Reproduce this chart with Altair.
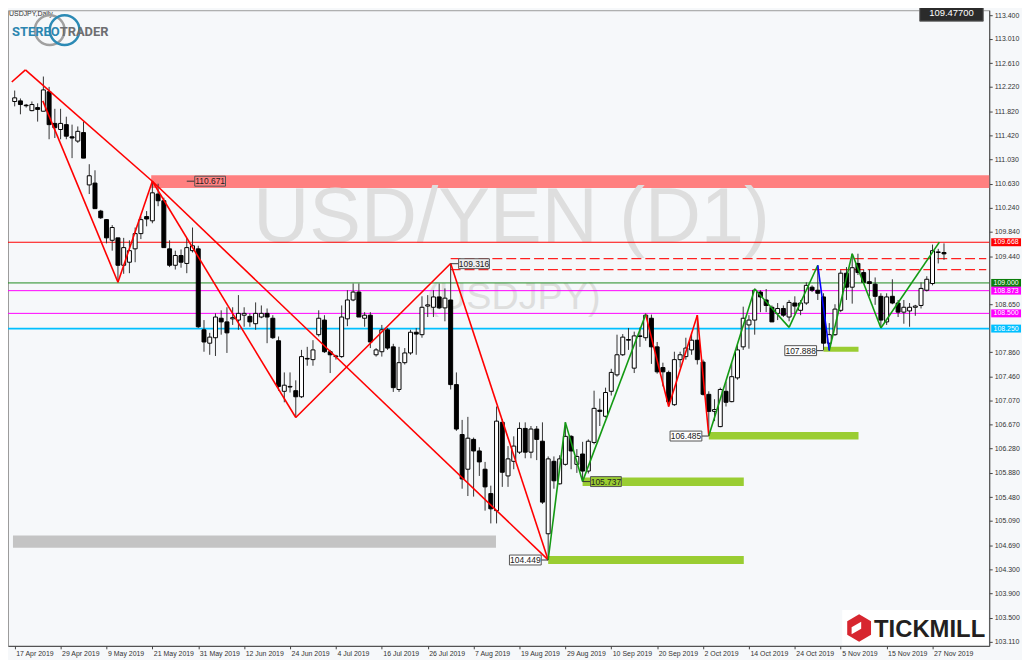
import altair as alt
import pandas as pd

# ---------------- data ----------------
date_labels = ["17 Apr 2019", "29 Apr 2019", "9 May 2019", "21 May 2019", "31 May 2019",
               "12 Jun 2019", "24 Jun 2019", "4 Jul 2019", "16 Jul 2019", "26 Jul 2019",
               "7 Aug 2019", "19 Aug 2019", "29 Aug 2019", "10 Sep 2019", "20 Sep 2019",
               "2 Oct 2019", "14 Oct 2019", "24 Oct 2019", "5 Nov 2019", "15 Nov 2019",
               "27 Nov 2019"]
date_label_bars = [0, 8, 16, 24, 32, 40, 48, 56, 64, 72, 80, 88, 96, 104, 112, 120,
                   128, 136, 144, 152, 160]

# visible price-axis labels (109.050 and 108.250 sit under the coloured tags)
y_ticks = [113.400, 113.010, 112.610, 112.220, 111.820, 111.420, 111.030, 110.630,
           110.240, 109.840, 109.440, 108.650, 107.860, 107.460,
           107.070, 106.670, 106.280, 105.880, 105.480, 105.090, 104.690, 104.300,
           103.900, 103.500, 103.110]

opens = [
    111.98, 111.99, 111.92, 111.83, 111.88, 111.82, 112.14, 111.62, 111.52, 111.60,
    111.40, 111.33, 111.47, 110.61, 110.64, 110.18, 110.04, 109.70, 109.74, 109.29,
    109.34, 109.56, 109.81, 110.09, 110.02, 110.46, 110.35, 109.56, 109.29, 109.45,
    109.32, 109.53, 109.56, 108.23, 108.01, 108.10, 108.42, 108.36, 108.41, 108.39,
    108.47, 108.45, 108.33, 108.44, 108.50, 108.42, 108.05, 107.22, 107.29, 107.23,
    107.13, 107.76, 107.74, 108.15, 108.39, 107.87, 107.80, 107.79, 108.41, 108.72,
    108.85, 108.42, 108.47, 107.82, 107.87, 108.23, 107.95, 107.25, 107.69, 107.85,
    108.19, 108.15, 108.62, 108.60, 108.77, 108.59, 108.72, 107.33, 106.51, 105.94,
    106.43, 106.24, 105.94, 105.54, 105.26, 106.71, 105.83, 106.07, 106.22, 106.61,
    106.22, 106.60, 106.40, 104.88, 106.07, 105.70, 106.02, 106.48, 106.02, 106.19,
    105.91, 106.38, 106.91, 106.81, 107.22, 107.49, 107.82, 108.07, 107.60, 108.13,
    108.10, 108.42, 107.95, 107.61, 107.53, 107.00, 107.74, 107.79, 107.90, 108.06,
    107.70, 107.17, 106.89, 106.64, 107.22, 107.05, 107.44, 107.95, 108.31, 108.39,
    108.85, 108.72, 108.60, 108.50, 108.58, 108.44, 108.67, 108.55, 108.67, 108.93,
    108.88, 108.77, 108.01, 108.15, 108.55, 109.16, 108.93, 109.32, 109.17, 109.02,
    108.98, 108.78, 108.36, 108.78, 108.67, 108.52, 108.54, 108.60, 108.63, 108.88,
    108.99, 109.50, 109.50]
highs = [
    112.16, 112.03, 111.94, 111.98, 111.95, 112.39, 112.22, 111.86, 111.86, 111.73,
    111.60, 111.57, 111.65, 110.95, 110.85, 110.20, 110.05, 109.95, 109.74, 109.74,
    109.70, 109.91, 110.09, 110.18, 110.67, 110.63, 110.40, 109.70, 109.53, 109.55,
    109.74, 109.91, 109.61, 108.39, 108.18, 108.50, 108.55, 108.60, 108.60, 108.80,
    108.60, 108.50, 108.68, 108.63, 108.58, 108.47, 108.12, 107.53, 107.53, 107.40,
    107.90, 107.95, 108.06, 108.55, 108.47, 107.90, 107.82, 108.63, 108.88, 108.99,
    108.99, 108.52, 108.52, 107.93, 108.31, 108.26, 108.00, 107.95, 107.93, 108.23,
    108.26, 108.78, 108.80, 108.88, 108.99, 108.91, 109.32, 107.53, 106.75, 106.80,
    106.46, 106.30, 106.06, 105.67, 106.97, 106.76, 106.32, 106.48, 106.71, 106.71,
    106.65, 106.65, 106.71, 106.15, 106.15, 106.17, 106.71, 106.50, 106.27, 106.39,
    106.43, 107.23, 107.10, 107.28, 107.59, 108.15, 108.16, 108.26, 108.20, 108.27,
    108.50, 108.48, 108.03, 107.69, 107.56, 107.87, 107.87, 108.10, 108.18, 108.47,
    107.74, 107.22, 107.09, 107.28, 107.38, 107.69, 108.00, 108.61, 108.47, 108.91,
    108.88, 108.90, 108.63, 108.67, 108.63, 108.72, 108.78, 108.72, 109.01, 108.96,
    109.29, 108.83, 108.34, 108.65, 109.21, 109.26, 109.48, 109.48, 109.22, 109.22,
    109.09, 108.83, 108.83, 109.06, 108.72, 108.72, 108.67, 108.64, 109.01, 109.11,
    109.63, 109.56, 109.65]
lows = [
    111.90, 111.77, 111.88, 111.82, 111.65, 111.82, 111.36, 111.38, 111.36, 111.36,
    111.05, 111.30, 111.05, 110.46, 110.22, 110.05, 109.65, 109.53, 109.01, 109.15,
    109.16, 109.34, 109.72, 109.93, 109.98, 110.26, 109.58, 109.26, 109.22, 109.25,
    109.16, 109.50, 108.26, 107.87, 107.82, 107.80, 108.15, 107.85, 108.31, 108.23,
    108.28, 108.28, 108.23, 108.42, 108.01, 108.08, 107.23, 107.04, 107.20, 106.79,
    107.11, 107.64, 107.64, 108.12, 107.85, 107.52, 107.74, 107.77, 108.29, 108.70,
    108.44, 108.28, 107.93, 107.79, 107.79, 107.90, 107.21, 107.21, 107.66, 107.82,
    107.82, 108.10, 108.44, 108.44, 108.57, 108.37, 107.25, 106.57, 105.62, 105.50,
    105.49, 105.83, 105.26, 105.05, 105.05, 105.65, 105.65, 105.94, 106.19, 106.12,
    106.12, 106.09, 105.37, 104.45, 105.62, 105.69, 106.00, 105.94, 105.88, 105.74,
    105.87, 106.35, 106.65, 106.79, 107.15, 107.46, 107.80, 107.90, 107.52, 107.95,
    108.05, 107.67, 107.51, 107.30, 106.97, 106.98, 107.61, 107.74, 107.82, 107.66,
    107.15, 106.49, 106.73, 106.63, 106.97, 107.04, 107.41, 107.90, 107.92, 108.15,
    108.52, 108.52, 108.36, 108.39, 108.44, 108.37, 108.49, 108.47, 108.64, 108.85,
    108.72, 107.90, 107.89, 108.13, 108.52, 108.72, 108.66, 109.13, 108.99, 108.78,
    108.64, 108.26, 108.31, 108.65, 108.44, 108.33, 108.28, 108.46, 108.58, 108.86,
    108.96, 109.32, 109.38]
closes = [
    112.04, 111.93, 111.91, 111.93, 111.85, 112.17, 111.60, 111.55, 111.62, 111.41,
    111.38, 111.49, 111.05, 110.76, 110.22, 110.07, 109.74, 109.91, 109.29, 109.58,
    109.53, 109.81, 110.04, 110.05, 110.48, 110.35, 109.58, 109.29, 109.45, 109.34,
    109.58, 109.61, 108.28, 108.03, 108.11, 108.44, 108.36, 108.18, 108.43, 108.50,
    108.50, 108.36, 108.50, 108.50, 108.44, 108.10, 107.30, 107.32, 107.30, 107.13,
    107.79, 107.75, 107.90, 108.42, 107.87, 107.82, 107.79, 108.44, 108.72, 108.85,
    108.44, 108.47, 108.03, 107.90, 108.23, 107.93, 107.28, 107.69, 107.85, 108.19,
    108.16, 108.60, 108.64, 108.77, 108.59, 108.75, 107.33, 106.60, 105.78, 106.45,
    106.24, 106.06, 105.65, 105.29, 106.73, 105.89, 106.11, 106.32, 106.61, 106.22,
    106.60, 106.43, 105.40, 106.11, 105.75, 106.11, 106.48, 106.24, 106.15, 105.91,
    106.40, 106.94, 106.89, 107.20, 107.53, 107.82, 108.11, 108.06, 108.13, 108.12,
    108.47, 107.95, 107.54, 107.54, 107.05, 107.74, 107.82, 107.93, 108.06, 107.74,
    107.17, 106.89, 106.92, 107.25, 107.04, 107.46, 107.90, 108.42, 108.39, 108.88,
    108.77, 108.63, 108.36, 108.58, 108.47, 108.68, 108.62, 108.67, 108.96, 108.88,
    108.83, 108.01, 108.15, 108.57, 109.16, 108.93, 109.25, 109.17, 109.01, 108.99,
    108.78, 108.39, 108.77, 108.67, 108.52, 108.60, 108.60, 108.62, 108.91, 109.06,
    109.53, 109.51, 109.477]

# horizontal price levels (drawn across the whole chart)
level_prices = [109.668, 109.000, 108.873, 108.500, 108.250]
level_names = ["red", "green", "magenta1", "magenta2", "cyan"]
# dashed levels starting at the 1 Aug high
dashed_start = [76, 76]
dashed_prices = [109.40, 109.22]

# zones
resist_zone_start = [23.8]
resist_zone_low = [110.56]
resist_zone_high = [110.77]
gray_zone_start = [-0.3]
gray_zone_end = [83.9]
gray_zone_low = [104.65]
gray_zone_high = [104.85]
green_zone_start = [93, 99, 121, 141]
green_zone_end = [127.1, 127.1, 147.1, 147.1]
green_zone_low = [104.385, 105.665, 106.43, 107.87]
green_zone_high = [104.515, 105.805, 106.55, 107.95]

# zigzag / trend segments  (bar index, price)
red_x1 = [-0.51, 1.87, 24, 4.9, 18, 24, 49, 76, 110, 114, 119]
red_y1 = [112.30, 112.50, 110.67, 111.99, 109.01, 110.67, 106.79, 109.32, 108.48, 106.97, 108.47]
red_x2 = [1.87, 24, 93, 18, 24, 49, 76, 93, 114, 119, 121]
red_y2 = [112.50, 110.67, 104.45, 109.01, 110.67, 106.79, 109.32, 104.45, 106.97, 108.47, 106.49]
green_x1 = [93, 96, 99, 121, 129, 135, 142, 146, 151]
green_y1 = [104.45, 106.71, 105.74, 106.49, 108.90, 108.27, 107.89, 109.48, 108.26]
green_x2 = [96, 99, 110, 129, 135, 140, 146, 151, 161.2]
green_y2 = [106.71, 105.74, 108.48, 108.90, 108.27, 109.29, 109.48, 108.26, 109.67]
blue_x1 = [140]
blue_y1 = [109.29]
blue_x2 = [142]
blue_y2 = [107.89]

# price labels on the chart
right_label_text = ["110.671", "109.316", "105.737"]
right_label_bar = [30, 76, 99]
right_label_price = [110.671, 109.316, 105.737]
left_label_text = ["104.449", "106.485", "107.888"]
left_label_bar = [93, 121, 141]
left_label_price = [104.449, 106.485, 107.888]

current_price = ["109.47700"]

# ---------------- layout ----------------
W, H = 988, 640
FONT = "Liberation Sans"
BG = "#f6f8fa"

xsc = alt.Scale(domain=[-0.3, 169.02], nice=False, zero=False)
ysc = alt.Scale(domain=[103.039, 113.479], nice=False, zero=False)

label_expr = ("[" + ",".join("'%s'" % s for s in date_labels) + "][indexof(["
              + ",".join(str(b) for b in date_label_bars) + "], datum.value)]")

x_axis = alt.Axis(values=date_label_bars, labelExpr=label_expr, title=None, grid=False,
                  tickSize=3, tickColor="#444", domainColor="#444", labelFont=FONT,
                  labelFontSize=7, labelColor="#333", labelAlign="left", labelBaseline="top",
                  labelPadding=1, labelOffset=1, labelFlush=False, labelOverlap=False,
                  labelBound=False)
y_axis = alt.Axis(orient="right", values=y_ticks, format=".3f", title=None, grid=False,
                  tickSize=3, tickColor="#444", domainColor="#444", labelFont=FONT,
                  labelFontSize=7, labelColor="#333", labelAlign="left",
                  labelBaseline="middle", labelPadding=2, labelFlush=False,
                  labelOverlap=False, labelBound=False)


def X(f):
    return alt.X(f + ":Q", scale=xsc, axis=x_axis, title=None)


def Y(f):
    return alt.Y(f + ":Q", scale=ysc, axis=y_axis, title=None)


candles = pd.DataFrame({"bar": list(range(len(opens))), "open": opens, "high": highs,
                        "low": lows, "close": closes})
candles["dir"] = ["up" if c >= o else "down" for o, c in zip(opens, closes)]

layers = []

# base layer carrying both axes
layers.append(alt.Chart(candles).mark_rule(color="#333333", strokeWidth=1, opacity=0).encode(
    x=X("bar"), y=Y("low")))

# zones
rz = pd.DataFrame({"x": resist_zone_start, "lo": resist_zone_low, "hi": resist_zone_high})
layers.append(alt.Chart(rz).mark_rect(color="#ff8080").encode(
    x=X("x"), x2=alt.value(W), y=Y("lo"), y2=alt.Y2("hi")))
gz = pd.DataFrame({"x": gray_zone_start, "x2": gray_zone_end, "lo": gray_zone_low,
                   "hi": gray_zone_high})
layers.append(alt.Chart(gz).mark_rect(color="#c4c4c4").encode(
    x=X("x"), x2=alt.X2("x2"), y=Y("lo"), y2=alt.Y2("hi")))
grz = pd.DataFrame({"x": green_zone_start, "x2": green_zone_end, "lo": green_zone_low,
                    "hi": green_zone_high})
layers.append(alt.Chart(grz).mark_rect(color="#9acd32").encode(
    x=X("x"), x2=alt.X2("x2"), y=Y("lo"), y2=alt.Y2("hi")))

# watermark
layers.append(alt.Chart(pd.DataFrame({"t": ["USD/YEN (D1)"]})).mark_text(
    font=FONT, fontSize=78, color="#dedede", align="center", baseline="middle").encode(
    x=alt.value(507), y=alt.value(210), text="t:N"))
layers.append(alt.Chart(pd.DataFrame({"t": ["(USDJPY)"]})).mark_text(
    font=FONT, fontSize=38, color="#dedede", align="center", baseline="middle").encode(
    x=alt.value(509), y=alt.value(290), text="t:N"))

# level lines
level_colors = {"red": "#ff0000", "green": "#1e8a1e", "magenta1": "#ff00ff",
                "magenta2": "#ff00ff", "cyan": "#00bfff"}
level_widths = {"red": 1, "green": 1, "magenta1": 1, "magenta2": 1, "cyan": 1.6}
for p, nm in zip(level_prices, level_names):
    layers.append(alt.Chart(pd.DataFrame({"p": [p]})).mark_rule(
        color=level_colors[nm], strokeWidth=level_widths[nm]).encode(y=Y("p")))
for s, p in zip(dashed_start, dashed_prices):
    dl = pd.DataFrame({"x": [s], "p": [p]})
    layers.append(alt.Chart(dl).mark_rule(color="#ff2020", strokeWidth=1.2,
                                          strokeDash=[10, 4]).encode(
        x=X("x"), x2=alt.value(W - 3), y=Y("p")))

# candles
layers.append(alt.Chart(candles).mark_rule(color="#333333", strokeWidth=1).encode(
    x=X("bar"), y=Y("low"), y2=alt.Y2("high")))
layers.append(alt.Chart(candles).transform_filter("datum.dir == 'up'").mark_bar(
    size=4, fill="white", stroke="black", strokeWidth=1, orient="vertical").encode(
    x=X("bar"), y=Y("open"), y2=alt.Y2("close")))
layers.append(alt.Chart(candles).transform_filter("datum.dir == 'down'").mark_bar(
    size=4, fill="black", stroke="black", strokeWidth=1, orient="vertical").encode(
    x=X("bar"), y=Y("open"), y2=alt.Y2("close")))

# zigzags
for xs1, ys1, xs2, ys2, col in [(red_x1, red_y1, red_x2, red_y2, "#ff0000"),
                                (green_x1, green_y1, green_x2, green_y2, "#139a13"),
                                (blue_x1, blue_y1, blue_x2, blue_y2, "#0000ff")]:
    seg = pd.DataFrame({"x1": xs1, "y1": ys1, "x2": xs2, "y2": ys2})
    layers.append(alt.Chart(seg).mark_rule(color=col, strokeWidth=1.6, clip=True).encode(
        x=X("x1"), y=Y("y1"), x2=alt.X2("x2"), y2=alt.Y2("y2")))

# chart price labels
right_fill = {"110.671": "#ff8080", "109.316": "#eeeeee", "105.737": "#9acd32"}
for t, b, p in zip(right_label_text, right_label_bar, right_label_price):
    d = pd.DataFrame({"t": [t], "b": [b], "p": [p]})
    base = alt.Chart(d)
    layers.append(base.mark_rule(color="#333", strokeWidth=1, x2Offset=8).encode(
        x=X("b"), x2=alt.X2("b"), y=Y("p")))
    layers.append(base.mark_rect(fill=right_fill[t], stroke="#555", strokeWidth=1,
                                 xOffset=8, x2Offset=39, yOffset=-5, y2Offset=5).encode(
        x=X("b"), x2=alt.X2("b"), y=Y("p"), y2=alt.Y2("p")))
    layers.append(base.mark_text(font=FONT, fontSize=8.5, color="#222", dx=23.5,
                                 align="center", baseline="middle").encode(
        x=X("b"), y=Y("p"), text="t:N"))
for t, b, p in zip(left_label_text, left_label_bar, left_label_price):
    d = pd.DataFrame({"t": [t], "b": [b], "p": [p]})
    base = alt.Chart(d)
    layers.append(base.mark_rule(color="#333", strokeWidth=1, xOffset=-7).encode(
        x=X("b"), x2=alt.X2("b"), y=Y("p")))
    layers.append(base.mark_rect(fill="white", stroke="#555", strokeWidth=1,
                                 xOffset=-39, x2Offset=-7, yOffset=-5, y2Offset=5).encode(
        x=X("b"), x2=alt.X2("b"), y=Y("p"), y2=alt.Y2("p")))
    layers.append(base.mark_text(font=FONT, fontSize=8.5, color="#222", dx=-23,
                                 align="center", baseline="middle").encode(
        x=X("b"), y=Y("p"), text="t:N"))

# colored price tags on the right axis
tag_colors = {"red": "#ff0000", "green": "#0a7d0a", "magenta1": "#ff00ff",
              "magenta2": "#ff00ff", "cyan": "#00bfff"}
for p, nm in zip(level_prices, level_names):
    d = pd.DataFrame({"p": [p], "t": ["%.3f" % p]})
    base = alt.Chart(d)
    layers.append(base.mark_rect(fill=tag_colors[nm], yOffset=-4, y2Offset=4).encode(
        x=alt.value(W + 2), x2=alt.value(W + 32), y=Y("p"), y2=alt.Y2("p")))
    layers.append(base.mark_text(font=FONT, fontSize=7, color="white", align="center",
                                 baseline="middle").encode(
        x=alt.value(W + 17), y=Y("p"), text="t:N"))

# current price box
cp = alt.Chart(pd.DataFrame({"t": current_price}))
layers.append(cp.mark_rect(fill="#2b2b2b", stroke="#666", strokeWidth=1).encode(
    x=alt.value(918), x2=alt.value(982), y=alt.value(-6), y2=alt.value(11)))
layers.append(cp.mark_text(font=FONT, fontSize=9.5, color="white", align="center",
                           baseline="middle").encode(
    x=alt.value(950), y=alt.value(2.5), text="t:N"))

# header text and StereoTrader logo
layers.append(alt.Chart(pd.DataFrame({"t": ["USDJPY,Daily"]})).mark_text(
    font=FONT, fontSize=7, color="#333", align="left", baseline="top").encode(
    x=alt.value(1), y=alt.value(0), text="t:N"))
layers.append(alt.Chart(pd.DataFrame({"c": ["g"]})).mark_point(
    shape="circle", size=900, filled=False, stroke="#a0a0a0", strokeWidth=2.5, opacity=1).encode(
    x=alt.value(42), y=alt.value(20)))
layers.append(alt.Chart(pd.DataFrame({"c": ["b"]})).mark_point(
    shape="circle", size=900, filled=False, stroke="#2b8ab5", strokeWidth=2.5, opacity=1).encode(
    x=alt.value(57), y=alt.value(20)))
layers.append(alt.Chart(pd.DataFrame({"t": ["STEREO"]})).mark_text(
    font="Roboto", fontSize=13, fontWeight="bold", color="#2b86b0",
    align="right", baseline="middle").encode(x=alt.value(52), y=alt.value(22), text="t:N"))
layers.append(alt.Chart(pd.DataFrame({"t": ["TRADER"]})).mark_text(
    font="Roboto", fontSize=13, fontWeight="bold", color="#6d6e71",
    align="left", baseline="middle").encode(x=alt.value(52), y=alt.value(22), text="t:N"))

# Tickmill logo
tm = alt.Chart(pd.DataFrame({"t": ["TICKMILL"]}))
layers.append(tm.mark_rect(fill="white").encode(
    x=alt.value(840), x2=alt.value(W - 1), y=alt.value(604), y2=alt.value(H - 1)))
layers.append(tm.mark_point(
    shape="M0,-1L0.87,-0.5L0.87,0.5L0,1L-0.87,0.5L-0.87,-0.5Z", size=760, filled=True,
    color="#d7262f", opacity=1).encode(x=alt.value(857), y=alt.value(622)))
layers.append(tm.mark_point(
    shape="M-0.55,-0.05L0.15,-0.45L0.15,0.05L-0.55,0.45Z", size=760, filled=True,
    color="white", opacity=1).encode(x=alt.value(857), y=alt.value(622)))
layers.append(tm.mark_text(font=FONT, fontSize=24, fontWeight="bold", color="#231f20",
                           align="left", baseline="alphabetic").encode(
    x=alt.value(872), y=alt.value(631), text="t:N"))

chart = alt.layer(*layers).properties(
    width=W, height=H,
    autosize=alt.AutoSizeParams(type="none"),
    padding={"left": 0, "top": 0, "right": 33, "bottom": 12},
    background=BG,
).configure_view(fill=BG, stroke="#9a9a9a", strokeWidth=1)

chart.save("out.html", embed_options={"renderer": "svg", "actions": False})
